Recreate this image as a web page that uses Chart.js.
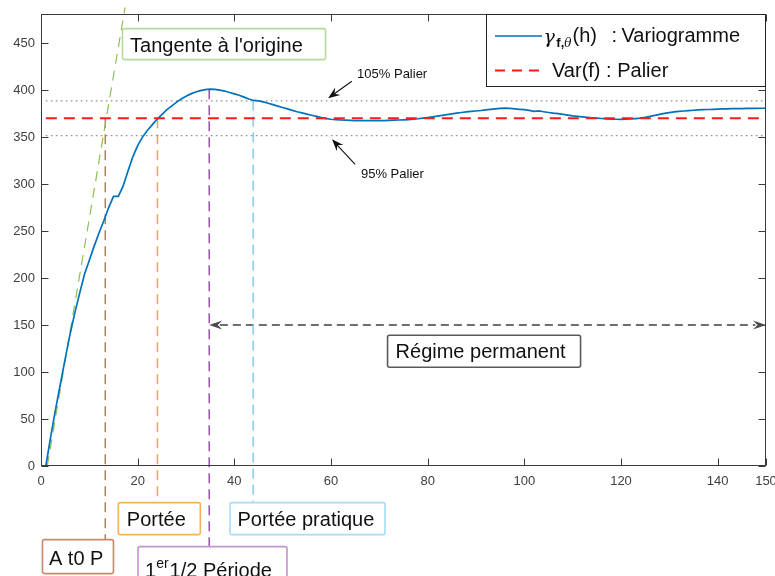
<!DOCTYPE html>
<html><head><meta charset="utf-8">
<script src="https://cdn.jsdelivr.net/npm/chart.js@4.4.1/dist/chart.umd.min.js"></script>
<style>html,body{margin:0;padding:0;background:#fff}#wrap{width:775px;height:576px}</style>
</head><body><div id="wrap"><canvas id="c" width="775" height="576"></canvas></div>
<script>
// ---------------- DATA ----------------
const lags = Array.from({length:150},(_,i)=>i+1);
const variogram = [
 0,31,60,87,114,140,163,184,204,219,
 234,248,261,275,287,287,298,314,329,341,
 350,357,363,369,374,379,383,387,390.5,393.5,
 396,398,399.5,400.5,401,400.8,400,399,397.5,396,
 394.5,392.5,390.5,389,388.5,387.5,386,384.5,383,381.5,
 380,378.5,377,375.8,374.5,373.2,372,370.7,369.7,369,
 368.5,368.2,368,367.8,367.6,367.5,367.5,367.5,367.5,367.5,
 367.6,367.8,368,368.2,368.4,368.6,369,369.5,370.2,370.8,
 371.5,372.3,373.2,374,374.8,375.5,376.2,376.8,377.3,377.8,
 378.3,379,379.6,380,380.5,380.8,380.5,380,379.6,379.3,
 378.5,377.3,377.8,377,376.2,375.5,375,374.2,373.4,372.5,
 372,371.5,371,370.6,370.2,369.8,369.5,369.2,369,368.9,
 369,369.3,369.7,370.2,371,372,373.2,374.2,375.2,376,
 376.8,377.3,377.8,378.2,378.6,378.9,379.2,379.4,379.6,379.8,
 380,380,380.2,380.3,380.4,380.5,380.6,380.6,380.7,380.7
];
const palier = 370;
const palierHigh = 388.5;   // 105 %
const palierLow = 351.5;    // 95 %
const lineStart = 1, lineEnd = 150;
const tangentX = [1.3, 17.4];
const tangentY = [0, 488];
const hAt0P = 13.3, hPortee = 24.1, hDemiPeriode = 34.8, hPorteePratique = 43.9;
const regimeY = 150;
const xTickValues = [0,20,40,60,80,100,120,140,150];
const xTickLabels = ['0','20','40','60','80','100','120','140','150'];
const yTickValues = [0,50,100,150,200,250,300,350,400,450];
const yTickLabels = ['0','50','100','150','200','250','300','350','400','450'];

// ---------------- STYLE / ANNOTATION CONFIG ----------------
const FONT = "'Liberation Sans', Arial, Helvetica, sans-serif";
const AXIS = '#3a3a3a';
const C_BLUE = '#0072BD', C_RED = '#ff1a1a', C_GREEN = '#8cc152', C_BROWN = '#c07a58',
      C_ORANGE = '#f0a540', C_PURPLE = '#9d4fb3', C_CYAN = '#7fd0f2', C_GRAY = '#6e6e6e';

const boxes = [
 {parts:[{t:"Tangente à l'origine"}], x:16.76, y:466, w:203, h:31, pad:8, base:23.5, color:'#b5d99c'},
 {parts:[{t:'A t0 P'}], x:0.2, y:-77.8, w:71, h:34, pad:7, base:26, color:'#c8896a'},
 {parts:[{t:'Portée'}], x:15.9, y:-38.4, w:82, h:32, pad:9, base:23.5, color:'#f2b061'},
 {parts:[{t:'Portée pratique'}], x:39.0, y:-38.4, w:155, h:32, pad:8, base:23.5, color:'#a6dcf4'},
 {parts:[{t:'1'},{t:'er',sup:true},{t:'1/2 Période'}], x:19.97, y:-85.3, w:149, h:46, pad:7.5, base:30.5, color:'#c493d2'},
 {parts:[{t:'Régime permanent'}], x:71.6, y:139.7, w:193, h:32, pad:8.5, base:23.5, color:'#5a5a5a'}
];
const notes = [
 {t:'105% Palier', x:65.4, y:412.7, tail:[64.3,409.5], tip:[59.4,391.3]},
 {t:'95% Palier', x:66.2, y:306, tail:[65.0,321], tip:[60.2,347.6]}
];

function seg(x0,y0,x1,y1){return [{x:x0,y:y0},{x:x1,y:y1}];}
const base = {pointRadius:0, pointHoverRadius:0, tension:0, fill:false};

const datasets = [
 Object.assign({label:'Var(f)', data:seg(lineStart,palier,lineEnd,palier), borderColor:C_RED, borderWidth:2, borderDash:[11,7]}, base),
 Object.assign({label:'variogram', data:lags.map((h,i)=>({x:h,y:variogram[i]})), borderColor:C_BLUE, borderWidth:1.7}, base),
 Object.assign({label:'105', data:seg(lineStart,palierHigh,lineEnd,palierHigh), borderColor:'#8f8f8f', borderWidth:1.2, borderDash:[1.6,3.4]}, base),
 Object.assign({label:'95', data:seg(lineStart,palierLow,lineEnd,palierLow), borderColor:'#8f8f8f', borderWidth:1.2, borderDash:[1.6,3.4]}, base),
 Object.assign({label:'tangente', data:seg(tangentX[0],tangentY[0],tangentX[1],tangentY[1]), borderColor:C_GREEN, borderWidth:1.2, borderDash:[10,7], clip:false}, base),
 Object.assign({label:'at0p', data:seg(hAt0P,palier,hAt0P,-77.8), borderColor:C_BROWN, borderWidth:1.5, borderDash:[10,6], clip:false}, base),
 Object.assign({label:'portee', data:seg(hPortee,palier,hPortee,-38.4), borderColor:C_ORANGE, borderWidth:1.5, borderDash:[10,6], clip:false}, base),
 Object.assign({label:'demi', data:seg(hDemiPeriode,401,hDemiPeriode,-85.3), borderColor:C_PURPLE, borderWidth:1.5, borderDash:[10,6], clip:false}, base),
 Object.assign({label:'pratique', data:seg(hPorteePratique,389,hPorteePratique,-38.4), borderColor:C_CYAN, borderWidth:1.5, borderDash:[10,6], clip:false}, base),
 Object.assign({label:'regime', data:seg(hDemiPeriode+2.2,regimeY,lineEnd-2.2,regimeY), borderColor:C_GRAY, borderWidth:2, borderDash:[8,5], clip:false}, base)
];

function arrowHead(ctx, tx, ty, ang, len, wid, color){
 ctx.save(); ctx.translate(tx,ty); ctx.rotate(ang);
 ctx.beginPath(); ctx.moveTo(0,0); ctx.lineTo(-len,-wid/2); ctx.lineTo(-len*0.65,0); ctx.lineTo(-len,wid/2); ctx.closePath();
 ctx.fillStyle=color; ctx.fill(); ctx.restore();
}
function roundRect(ctx,x,y,w,h,r){
 ctx.beginPath(); ctx.moveTo(x+r,y); ctx.lineTo(x+w-r,y); ctx.quadraticCurveTo(x+w,y,x+w,y+r);
 ctx.lineTo(x+w,y+h-r); ctx.quadraticCurveTo(x+w,y+h,x+w-r,y+h); ctx.lineTo(x+r,y+h);
 ctx.quadraticCurveTo(x,y+h,x,y+h-r); ctx.lineTo(x,y+r); ctx.quadraticCurveTo(x,y,x+r,y); ctx.closePath();
}

const annot = {
 id:'annot',
 afterDraw(chart){
  const ctx = chart.ctx, xs = chart.scales.x, ys = chart.scales.y, ca = chart.chartArea;
  const X = v=>xs.getPixelForValue(v), Y = v=>ys.getPixelForValue(v);
  ctx.save();
  // axes box + inward ticks
  ctx.strokeStyle = AXIS; ctx.lineWidth = 1; ctx.setLineDash([]);
  const L = Math.round(ca.left)+0.5, R = Math.round(ca.right)-0.5, T = Math.round(ca.top)+0.5, B = Math.round(ca.bottom)-0.5;
  ctx.strokeRect(L, T, R-L, B-T);
  ctx.beginPath();
  xs.ticks.forEach(t=>{ const p = Math.round(X(t.value))+0.5; ctx.moveTo(p,B); ctx.lineTo(p,B-7); ctx.moveTo(p,T); ctx.lineTo(p,T+7); });
  ys.ticks.forEach(t=>{ const p = Math.round(Y(t.value))+0.5; ctx.moveTo(L,p); ctx.lineTo(L+7,p); ctx.moveTo(R,p); ctx.lineTo(R-7,p); });
  ctx.stroke();

  // regime double arrow heads
  const ry = Y(regimeY);
  arrowHead(ctx, X(hDemiPeriode), ry, Math.PI, 13, 9, '#4a4a4a');
  arrowHead(ctx, X(lineEnd), ry, 0, 13, 9, '#4a4a4a');

  // palier notes
  notes.forEach(n=>{
   ctx.font = '13px '+FONT; ctx.fillStyle = '#111'; ctx.textAlign='left'; ctx.textBaseline='alphabetic';
   ctx.fillText(n.t, X(n.x), Y(n.y));
   const x0=X(n.tail[0]), y0=Y(n.tail[1]), x1=X(n.tip[0]), y1=Y(n.tip[1]);
   const ang = Math.atan2(y1-y0, x1-x0);
   ctx.strokeStyle='#111'; ctx.lineWidth=1.1; ctx.beginPath(); ctx.moveTo(x0,y0); ctx.lineTo(x1-Math.cos(ang)*6, y1-Math.sin(ang)*6); ctx.stroke();
   arrowHead(ctx, x1, y1, ang, 12, 9, '#111');
  });

  // text boxes
  boxes.forEach(b=>{
   const bx = X(b.x), by = Y(b.y);
   ctx.strokeStyle = b.color; ctx.lineWidth = 1.6;
   roundRect(ctx, bx+0.5, by+0.5, b.w, b.h, 2); ctx.stroke();
   let cx = bx + b.pad; const baseY = by + b.base;
   ctx.fillStyle = '#111'; ctx.textAlign='left'; ctx.textBaseline='alphabetic';
   b.parts.forEach(p=>{
    if(p.sup){ ctx.font='14px '+FONT; ctx.fillText(p.t, cx, baseY-9); cx += ctx.measureText(p.t).width + 1; }
    else { ctx.font='20px '+FONT; ctx.fillText(p.t, cx, baseY); cx += ctx.measureText(p.t).width; }
   });
  });

  // legend
  const lx = Math.round(ca.right) - 279.5, ly = Math.round(ca.top)+0.5, lw = 279, lh = 72;
  ctx.fillStyle = '#fff'; ctx.fillRect(lx, ly, lw, lh);
  ctx.strokeStyle = '#222'; ctx.lineWidth = 1; ctx.strokeRect(lx, ly, lw, lh);
  ctx.lineWidth = 1.7; ctx.strokeStyle = C_BLUE; ctx.setLineDash([]);
  ctx.beginPath(); ctx.moveTo(lx+8.5, ly+21.5); ctx.lineTo(lx+55.5, ly+21.5); ctx.stroke();
  ctx.lineWidth = 2; ctx.strokeStyle = C_RED; ctx.setLineDash([10,7]);
  ctx.beginPath(); ctx.moveTo(lx+8.5, ly+56); ctx.lineTo(lx+55.5, ly+56); ctx.stroke();
  ctx.setLineDash([]);
  ctx.fillStyle = '#111'; ctx.textAlign='left'; ctx.textBaseline='alphabetic';
  let tx = lx + 57;
  ctx.font = "italic 19px 'DejaVu Serif', serif"; ctx.fillText('γ', tx, ly+28); tx += ctx.measureText('γ').width + 1.5;
  ctx.font = "bold 13px "+FONT; ctx.fillText('f,', tx, ly+32.5); tx += ctx.measureText('f,').width;
  ctx.font = "italic 12px 'DejaVu Serif', serif"; ctx.fillText('θ', tx, ly+32.5); tx += ctx.measureText('θ').width + 1;
  ctx.font = '20px '+FONT; ctx.fillText('(h)', tx, ly+27.5);
  ctx.fillText(':', lx+125, ly+27.5);
  ctx.fillText('Variogramme', lx+135, ly+27.5);
  ctx.fillText('Var(f) : Palier', lx+65.5, ly+62);
  ctx.restore();
 }
};

new Chart(document.getElementById('c'), {
 type:'line',
 data:{datasets},
 plugins:[annot],
 options:{
  responsive:false, animation:false, devicePixelRatio:1,
  layout:{padding:{top:14, right:9, left:0, bottom:0}},
  plugins:{legend:{display:false}, tooltip:{enabled:false}},
  events:[],
  scales:{
   x:{type:'linear', min:0, max:150,
      grid:{display:false, drawTicks:false}, border:{display:false},
      afterBuildTicks:s=>{ s.ticks = xTickValues.map(v=>({value:v})); },
      afterFit:s=>{ s.height = 110; s.paddingLeft = 0; s.paddingRight = 0; },
      ticks:{padding:8, autoSkip:false, maxRotation:0, color:'#404040', font:{size:13, family:FONT},
        callback:(v)=>{ const i = xTickValues.indexOf(v); return i>=0 ? xTickLabels[i] : ''; }}},
   y:{type:'linear', min:0, max:481,
      grid:{display:false, drawTicks:false}, border:{display:false},
      afterBuildTicks:s=>{ s.ticks = yTickValues.map(v=>({value:v})); },
      afterFit:s=>{ s.width = 41; s.paddingTop = 0; s.paddingBottom = 0; },
      ticks:{padding:6, autoSkip:false, color:'#404040', font:{size:13, family:FONT},
        callback:(v)=>{ const i = yTickValues.indexOf(v); return i>=0 ? yTickLabels[i] : ''; }}}
  }
 }
});
</script></body></html>
